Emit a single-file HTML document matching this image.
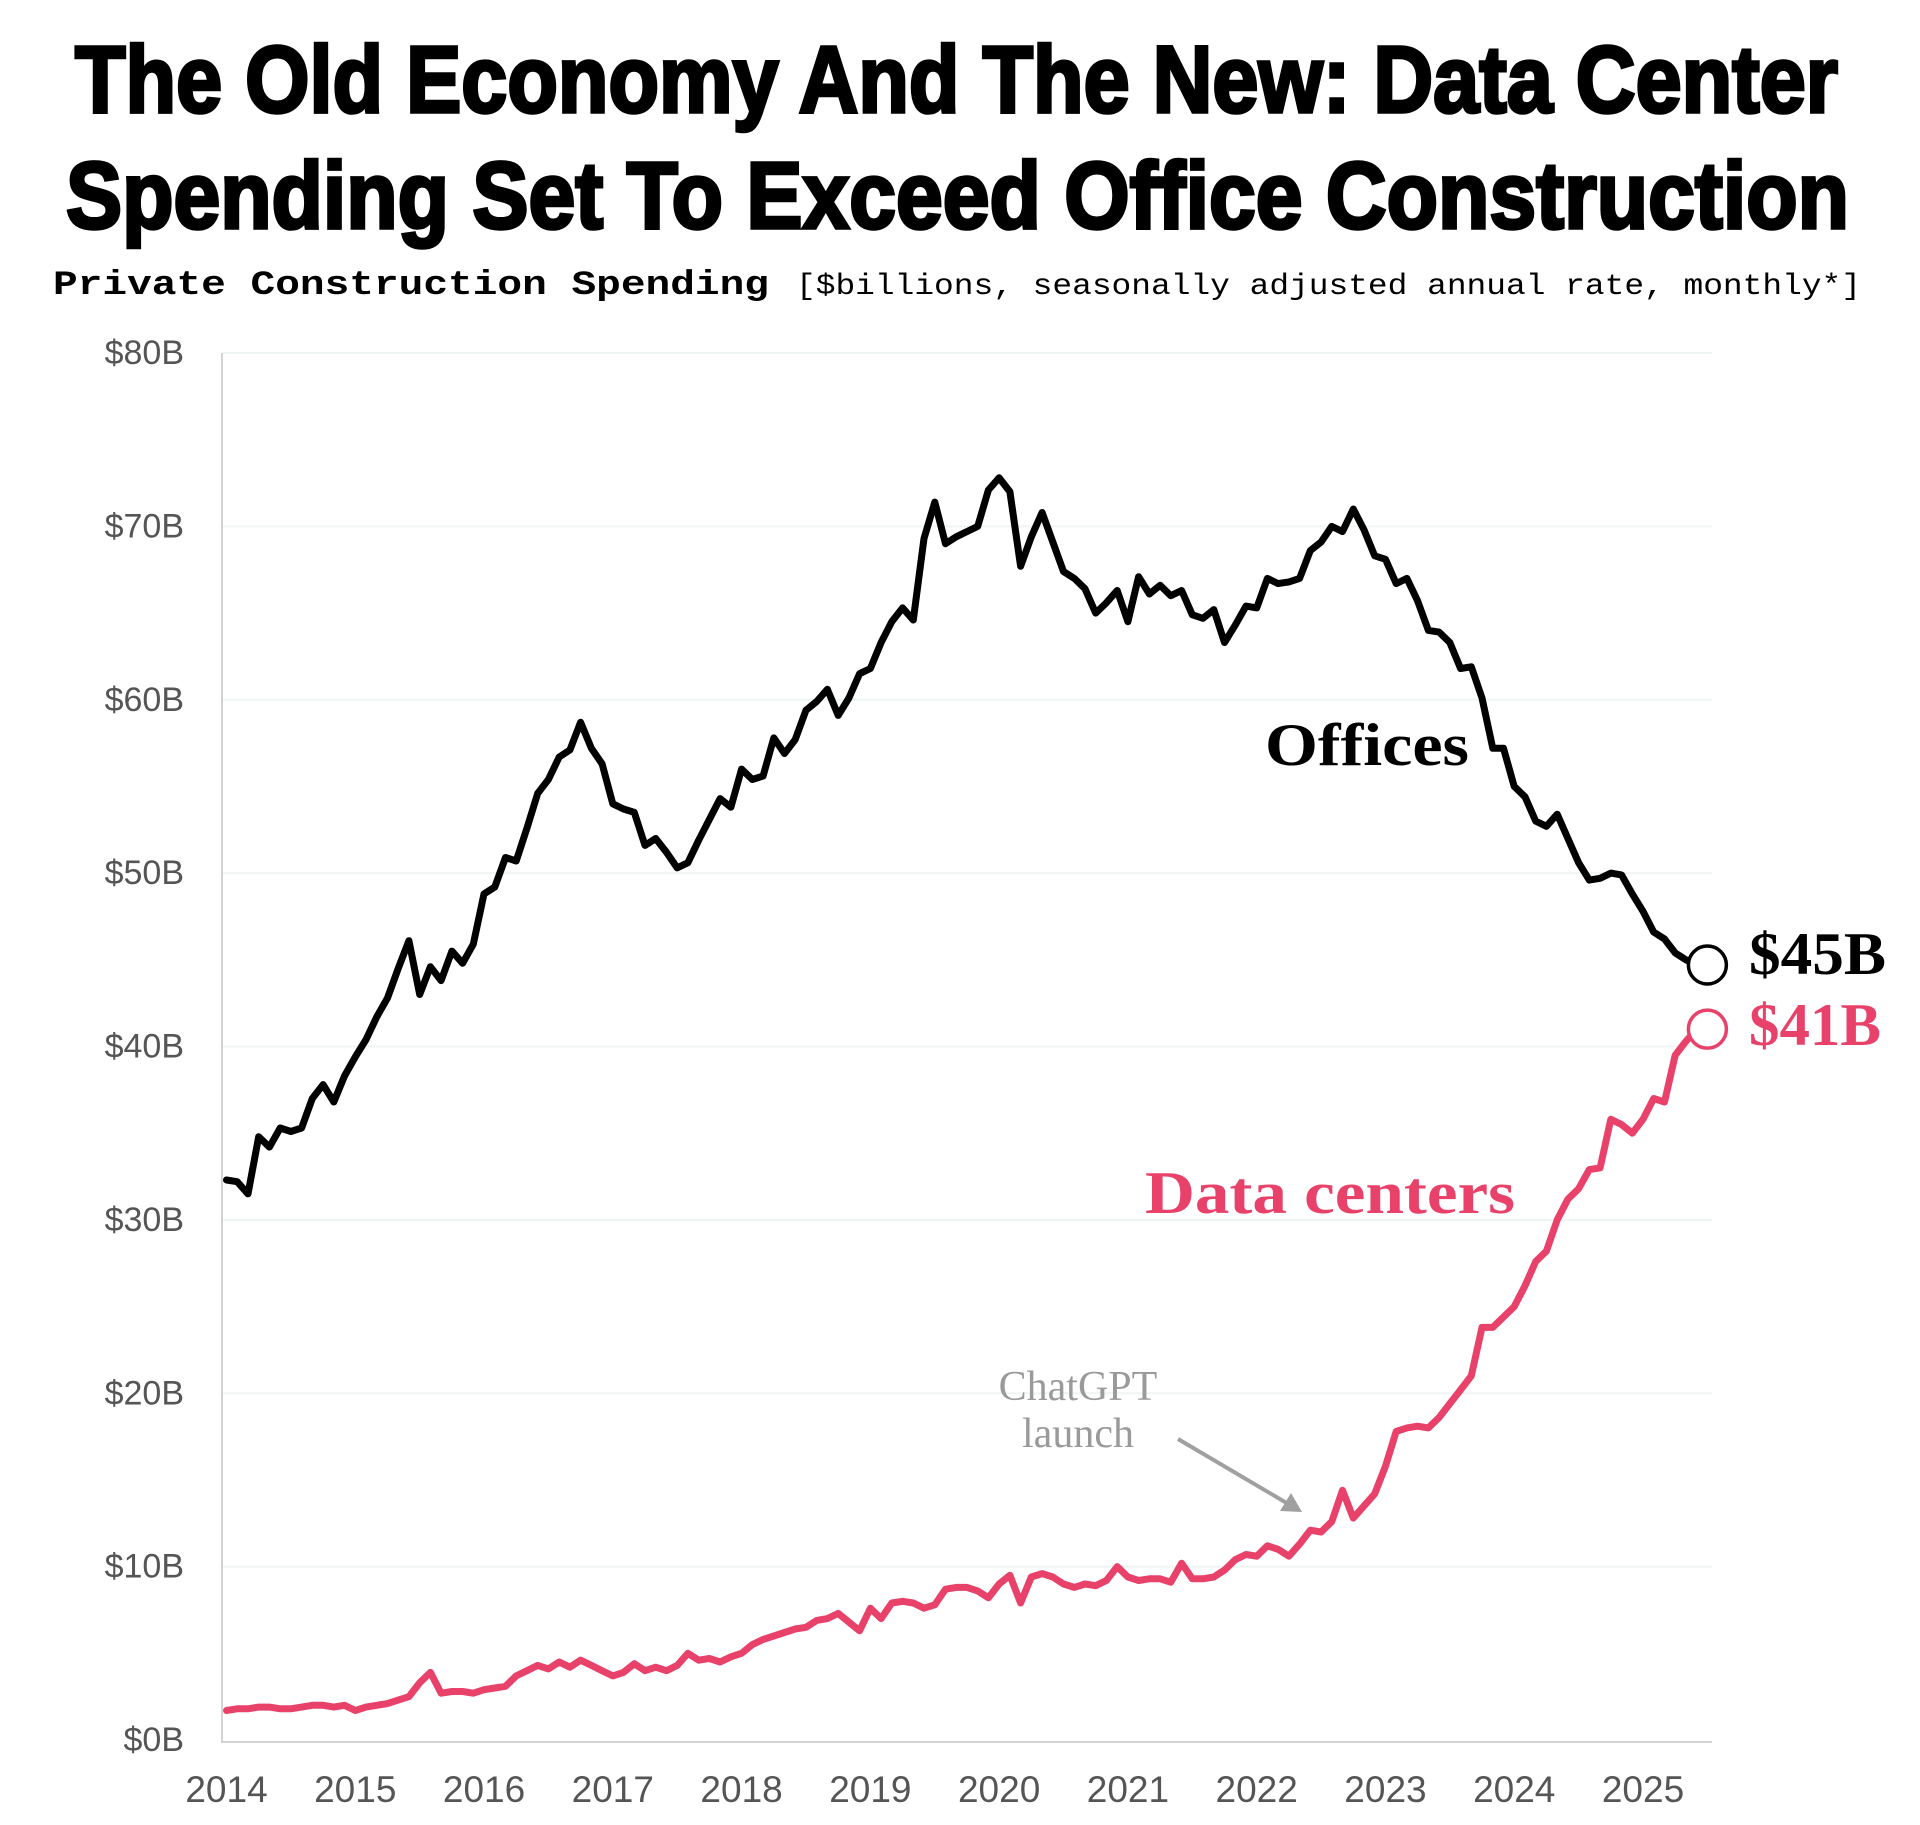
<!DOCTYPE html>
<html><head><meta charset="utf-8"><style>
html,body{margin:0;padding:0;background:#fff;}
svg{display:block;}
</style></head><body>
<svg id="chart" width="1920" height="1825" viewBox="0 0 1920 1825" xmlns="http://www.w3.org/2000/svg">
<rect width="1920" height="1825" fill="#fff"/>
<text x="75" y="112" textLength="1763" lengthAdjust="spacingAndGlyphs" font-family="'Liberation Sans Narrow','Liberation Sans',sans-serif" font-weight="bold" font-size="95" fill="#000" stroke="#000" stroke-width="3.5">The Old Economy And The New: Data Center</text>
<text x="66" y="228" textLength="1783" lengthAdjust="spacingAndGlyphs" font-family="'Liberation Sans Narrow','Liberation Sans',sans-serif" font-weight="bold" font-size="95" fill="#000" stroke="#000" stroke-width="3.5">Spending Set To Exceed Office Construction</text>
<text x="53" y="294" textLength="716" lengthAdjust="spacingAndGlyphs" font-family="'Liberation Mono',monospace" font-weight="bold" font-size="34" fill="#000">Private Construction Spending</text>
<text x="796" y="294" textLength="1065" lengthAdjust="spacingAndGlyphs" font-family="'Liberation Mono',monospace" font-size="30" fill="#000">[$billions, seasonally adjusted annual rate, monthly*]</text>
<g id="grid"></g>
<g id="axes"></g>
<g id="series"></g>
<g id="labels">
<text x="1265" y="765" textLength="204" lengthAdjust="spacingAndGlyphs" font-family="'Liberation Serif',serif" font-weight="bold" font-size="60" fill="#000">Offices</text>
<text x="1145" y="1213" textLength="370" lengthAdjust="spacingAndGlyphs" font-family="'Liberation Serif',serif" font-weight="bold" font-size="60" fill="#e8426a">Data centers</text>
<text x="1749" y="974" textLength="137" lengthAdjust="spacingAndGlyphs" font-family="'Liberation Serif',serif" font-weight="bold" font-size="60" fill="#000">$45B</text>
<text x="1749" y="1045" textLength="132" lengthAdjust="spacingAndGlyphs" font-family="'Liberation Serif',serif" font-weight="bold" font-size="60" fill="#e8426a">$41B</text>
<text x="1078" y="1400" text-anchor="middle" font-family="'Liberation Serif',serif" font-size="42" fill="#9a9a9a">ChatGPT</text>
<text x="1078" y="1447" text-anchor="middle" font-family="'Liberation Serif',serif" font-size="42" fill="#9a9a9a">launch</text>
<line x1="1178" y1="1439" x2="1290" y2="1505" stroke="#a0a0a0" stroke-width="4"/>
<polygon points="1302,1512 1280,1511 1291,1493" fill="#a0a0a0"/>
</g>
</svg>
<script>
const yTicks = [0,10,20,30,40,50,60,70,80];
const yearTicks = [2014,2015,2016,2017,2018,2019,2020,2021,2022,2023,2024,2025];
const offices = [32.3,32.2,31.5,34.8,34.2,35.3,35.1,35.3,37,37.8,36.8,38.3,39.4,40.4,41.7,42.8,44.5,46.1,43,44.6,43.8,45.5,44.8,45.9,48.8,49.2,50.9,50.7,52.6,54.6,55.4,56.7,57.1,58.7,57.2,56.3,54,53.7,53.5,51.6,52,51.2,50.3,50.6,51.9,53.1,54.3,53.8,56,55.4,55.6,57.8,56.9,57.7,59.4,59.9,60.6,59.1,60.1,61.5,61.8,63.3,64.5,65.3,64.6,69.3,71.4,69,69.4,69.7,70,72.1,72.8,72,67.7,69.4,70.8,69.1,67.4,67,66.4,65,65.6,66.3,64.5,67.1,66.1,66.6,66,66.3,64.9,64.7,65.2,63.3,64.3,65.4,65.3,67,66.7,66.8,67,68.6,69.1,70,69.7,71,69.8,68.3,68.1,66.7,67,65.7,64,63.9,63.3,61.8,61.9,60.1,57.2,57.2,55,54.4,53,52.7,53.4,52,50.6,49.6,49.7,50,49.9,48.8,47.8,46.6,46.2,45.4,45.0,44.7];
const dataCenters = [1.7,1.8,1.8,1.9,1.9,1.8,1.8,1.9,2.0,2.0,1.9,2.0,
1.7,1.9,2.0,2.1,2.3,2.5,3.3,3.9,2.7,2.8,2.8,2.7,
2.9,3.0,3.1,3.7,4.0,4.3,4.1,4.5,4.2,4.6,4.3,4.0,
3.7,3.9,4.4,4.0,4.2,4.0,4.3,5.0,4.6,4.7,4.5,4.8,
5.0,5.5,5.8,6.0,6.2,6.4,6.5,6.9,7.0,7.3,6.8,6.3,
7.6,7.0,7.9,8.0,7.9,7.6,7.8,8.7,8.8,8.8,8.6,8.2,
9.0,9.5,7.9,9.4,9.6,9.4,9.0,8.8,9.0,8.9,9.2,10.0,
9.4,9.2,9.3,9.3,9.1,10.2,9.3,9.3,9.4,9.8,10.4,10.7,
10.6,11.2,11.0,10.6,11.3,12.1,12.0,12.6,14.4,12.8,13.5,14.2,
15.8,17.8,18.0,18.1,18.0,18.6,19.4,20.2,21.0,23.8,23.8,24.4,
25.0,26.2,27.6,28.2,30.0,31.2,31.8,32.9,33.0,35.8,35.5,35.0,
35.8,37.0,36.8,39.5,40.3,41.0];
const startYear = 2014;

const NS = 'http://www.w3.org/2000/svg';
const X0 = 226.5, X1 = 1643, Y0 = 1740, Y80 = 353, PLOT_RIGHT = 1712;
function xScale(yr){ return X0 + (yr - 2014) * (X1 - X0) / 11; }
function yScale(v){ return Y0 + (Y80 - Y0) * v / 80; }
function mk(tag, attrs, parent){ const e = document.createElementNS(NS, tag); for (const k in attrs) e.setAttribute(k, attrs[k]); parent.appendChild(e); return e; }

const grid = document.getElementById('grid');
const axes = document.getElementById('axes');
yTicks.forEach(v => {
  if (v > 0) {
    const g = mk('line', {x1: 222, x2: PLOT_RIGHT, y1: yScale(v), y2: yScale(v), stroke: '#eef5f2', 'stroke-width': 2}, grid);
    
    
  }
  const t = mk('text', {x: 184, y: yScale(v) + 11, 'text-anchor': 'end', 'font-family': "'Liberation Sans Narrow','Liberation Sans',sans-serif", 'font-size': 34, fill: '#555'}, axes);
  t.textContent = '$' + v + 'B';
  
  
});
yearTicks.forEach(yr => {
  const t = mk('text', {x: xScale(yr), y: 1802, 'text-anchor': 'middle', 'font-family': "'Liberation Sans Narrow','Liberation Sans',sans-serif", 'font-size': 37, fill: '#555'}, axes);
  t.textContent = yr;
  
  
});
const ya = mk('line', {x1: 222, x2: 222, y1: 353, y2: 1742, stroke: '#d4d4d4', 'stroke-width': 2}, axes);


const xa = mk('line', {x1: 221, x2: PLOT_RIGHT, y1: 1742, y2: 1742, stroke: '#d4d4d4', 'stroke-width': 2}, axes);



const series = document.getElementById('series');
function drawSeries(vals, color, name){
  const pts = vals.map((v, i) => xScale(startYear + i / 12).toFixed(1) + ',' + yScale(v).toFixed(1));
  const p = mk('polyline', {points: pts.join(' '), fill: 'none', stroke: color, 'stroke-width': 7, 'stroke-linejoin': 'round', 'stroke-linecap': 'round'}, series);
  
  
  const n = vals.length - 1;
  const c = mk('circle', {cx: xScale(startYear + (n + 1) / 12), cy: yScale(vals[n]), r: 19, fill: '#fff', stroke: color, 'stroke-width': 3.5}, series);
  
  
}
drawSeries(offices, '#000', 'offices');
drawSeries(dataCenters, '#e8426a', 'data-centers');
</script>
</body></html>
